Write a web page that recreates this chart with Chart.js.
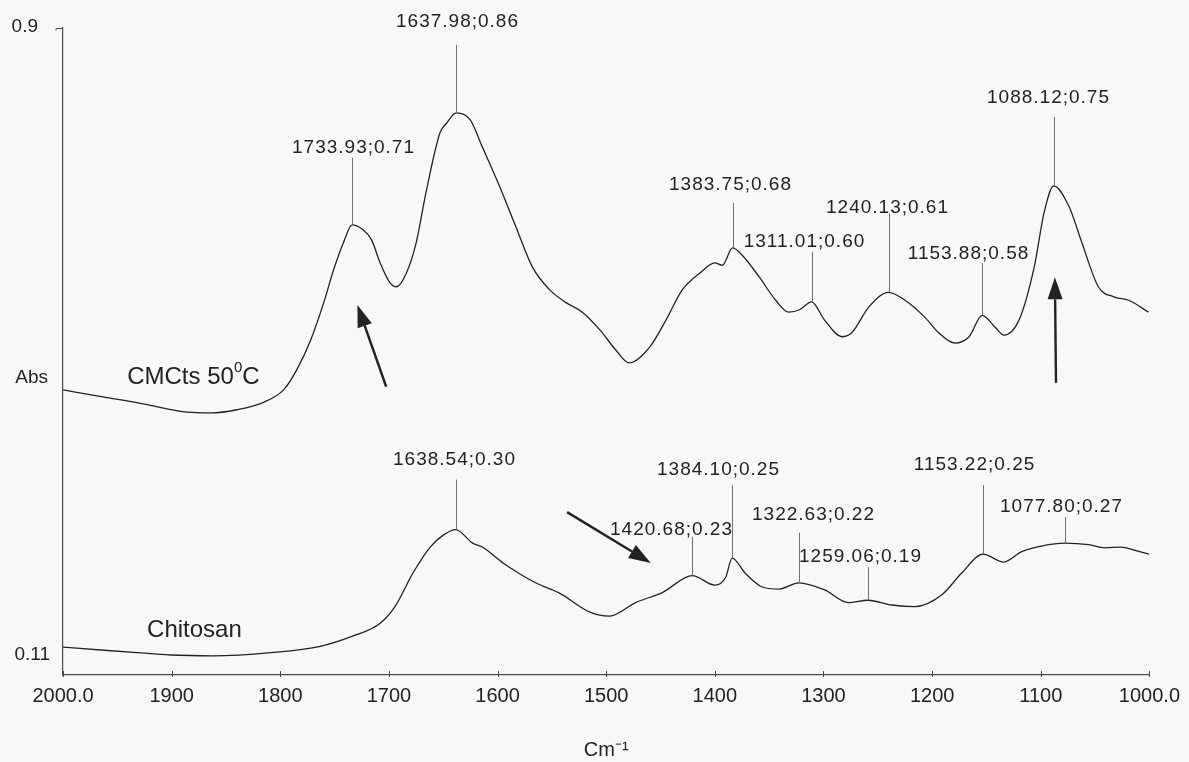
<!DOCTYPE html>
<html>
<head>
<meta charset="utf-8">
<title>FTIR spectra - CMCts 50°C and Chitosan</title>
<script src="https://cdn.jsdelivr.net/npm/chart.js@4.4.1/dist/chart.umd.min.js"></script>
<style>
  html, body { margin: 0; padding: 0; background: #f8f8f6; }
  #wrap { width: 1189px; height: 762px; }
</style>
</head>
<body>
<div id="wrap"><canvas id="spectrum"></canvas></div>
<script>
// x axis: wavenumber, runs 2000 -> 1000
const waveTicks = [2000, 1900, 1800, 1700, 1600, 1500, 1400, 1300, 1200, 1100, 1000];
const absTicks = [0.9, 0.11];

// CMCts 50°C trace (in units of the Abs axis)
const cmctsWave = [2000, 1962, 1932, 1886, 1864, 1840, 1816, 1797, 1785, 1772,
  1760, 1751, 1742, 1733.93, 1724, 1716, 1708, 1699, 1693, 1684,
  1675, 1666, 1653, 1647, 1637.98, 1625, 1614, 1598, 1583, 1568,
  1552, 1537, 1522, 1506, 1491, 1479, 1460, 1445, 1430, 1414,
  1400, 1393, 1383.75, 1375, 1359, 1344, 1332, 1322, 1311.01, 1299,
  1283, 1274, 1258, 1240.13, 1225, 1207, 1194, 1179, 1166, 1153.88,
  1142, 1134, 1120, 1106, 1097, 1088.12, 1074, 1063, 1047, 1032,
  1019, 1001];
const cmctsAbs = [0.444, 0.435, 0.428, 0.416, 0.415, 0.419, 0.428, 0.444, 0.469, 0.507,
  0.554, 0.595, 0.629, 0.652, 0.646, 0.633, 0.604, 0.579, 0.574, 0.591,
  0.629, 0.692, 0.768, 0.780, 0.793, 0.784, 0.750, 0.700, 0.649, 0.599,
  0.570, 0.554, 0.542, 0.520, 0.494, 0.478, 0.498, 0.532, 0.570, 0.591,
  0.604, 0.601, 0.623, 0.614, 0.586, 0.557, 0.542, 0.545, 0.555, 0.532,
  0.511, 0.516, 0.549, 0.567, 0.557, 0.536, 0.516, 0.503, 0.511, 0.538,
  0.523, 0.513, 0.532, 0.599, 0.667, 0.701, 0.675, 0.633, 0.574, 0.561,
  0.557, 0.542];

// Chitosan trace
const chitosanWave = [2000, 1962, 1932, 1901, 1862, 1809, 1763, 1733, 1708, 1694,
  1678, 1662, 1650, 1638.54, 1623, 1614, 1595, 1565, 1543, 1515,
  1497, 1473, 1448, 1420.68, 1400, 1390, 1384.10, 1372, 1357, 1341,
  1322.63, 1299, 1277, 1259.06, 1237, 1216, 1191, 1173, 1153.22, 1134,
  1118, 1093, 1077.80, 1056, 1041, 1026, 1014, 1000];
const chitosanAbs = [0.120, 0.116, 0.113, 0.110, 0.109, 0.113, 0.121, 0.134, 0.150, 0.172,
  0.213, 0.246, 0.261, 0.268, 0.251, 0.246, 0.226, 0.201, 0.188, 0.164,
  0.159, 0.176, 0.189, 0.210, 0.198, 0.208, 0.232, 0.213, 0.196, 0.193,
  0.201, 0.192, 0.176, 0.179, 0.173, 0.171, 0.186, 0.213, 0.237, 0.227,
  0.240, 0.249, 0.251, 0.249, 0.245, 0.246, 0.242, 0.237];

// labelled peaks (wavenumber ; printed absorbance)
const cmctsPeakWave = [1733.93, 1637.98, 1383.75, 1311.01, 1240.13, 1153.88, 1088.12];
const cmctsPeakAbs = [0.71, 0.86, 0.68, 0.60, 0.61, 0.58, 0.75];
const chitosanPeakWave = [1638.54, 1420.68, 1384.10, 1322.63, 1259.06, 1153.22, 1077.80];
const chitosanPeakAbs = [0.30, 0.23, 0.25, 0.22, 0.19, 0.25, 0.27];

// label placement per peak: [text dx, text rise above peak, marker length] in px
const cmctsLabelPos = [[1, 77, 67], [1, 91, 68], [-3, 63, 45], [-8, 60, 50], [-2, 85, 79], [-14, 62, 52], [-6, 88, 69]];
const chitosanLabelPos = [[-2, 70, 50], [-21, 46, 39], [-14, 88, 73], [14, 68, 50], [-8, 43, 33], [-9, 89, 69], [-4, 36, 26]];

// arrows: [tail wave, tail abs, tip wave, tip abs]
const arrows = [[1702.5, 0.448, 1729, 0.551], [1086, 0.453, 1087, 0.586], [1536, 0.290, 1459, 0.226]];
// series names: [wave, abs] of text centre
const namePos = [[1880, 0.460], [1879, 0.1415]];

const ink = '#222222';
const family = '"Liberation Sans", Arial, sans-serif';

function series(wave, abs) {
    return wave.map((w, i) => ({ x: w, y: abs[i] }));
}

function valueAt(data, w) {
    let best = data[0];
    data.forEach(p => { if (Math.abs(p.x - w) < Math.abs(best.x - w)) best = p; });
    return best.y;
}

const annotate = {
    id: 'annotate',
    afterDatasetsDraw(chart) {
        const { ctx, chartArea, scales: { x, y } } = chart;
        ctx.save();

        // peak markers and labels
        const groups = [
            [cmctsPeakWave, cmctsPeakAbs, cmctsLabelPos, chart.data.datasets[0].data],
            [chitosanPeakWave, chitosanPeakAbs, chitosanLabelPos, chart.data.datasets[1].data]
        ];
        ctx.font = '19px ' + family;
        ctx.letterSpacing = '1px';
        ctx.textAlign = 'center';
        ctx.textBaseline = 'middle';
        groups.forEach(([waves, abs, pos, data]) => {
            waves.forEach((w, i) => {
                const px = Math.round(x.getPixelForValue(w)) + 0.5;
                const py = y.getPixelForValue(valueAt(data, w));
                const [dx, rise, len] = pos[i];
                ctx.strokeStyle = '#707070';
                ctx.lineWidth = 1;
                ctx.beginPath();
                ctx.moveTo(px, py);
                ctx.lineTo(px, py - len);
                ctx.stroke();
                ctx.fillStyle = ink;
                ctx.fillText(w.toFixed(2) + ';' + abs[i].toFixed(2), px + dx, py - rise);
            });
        });
        ctx.letterSpacing = '0px';

        // arrows
        ctx.strokeStyle = ink;
        ctx.fillStyle = ink;
        arrows.forEach(([w0, v0, w1, v1]) => {
            const x0 = x.getPixelForValue(w0), y0 = y.getPixelForValue(v0);
            const x1 = x.getPixelForValue(w1), y1 = y.getPixelForValue(v1);
            const ang = Math.atan2(y1 - y0, x1 - x0);
            const head = 22, half = 7.5;
            const bx = x1 - head * Math.cos(ang), by = y1 - head * Math.sin(ang);
            ctx.lineWidth = 2.4;
            ctx.beginPath();
            ctx.moveTo(x0, y0);
            ctx.lineTo(bx, by);
            ctx.stroke();
            ctx.beginPath();
            ctx.moveTo(x1, y1);
            ctx.lineTo(bx + half * Math.sin(ang), by - half * Math.cos(ang));
            ctx.lineTo(bx - half * Math.sin(ang), by + half * Math.cos(ang));
            ctx.closePath();
            ctx.fill();
        });

        // series names
        ctx.fillStyle = ink;
        ctx.textAlign = 'left';
        ctx.textBaseline = 'middle';
        const big = '24px ' + family, small = '15px ' + family;
        const nx = x.getPixelForValue(namePos[0][0]), ny = y.getPixelForValue(namePos[0][1]);
        ctx.font = big;
        const wa = ctx.measureText('CMCts 50').width;
        const wc = ctx.measureText('C').width;
        ctx.font = small;
        const wo = ctx.measureText('0').width;
        const sx = nx - (wa + wo + wc) / 2;
        ctx.font = big;
        ctx.fillText('CMCts 50', sx, ny);
        ctx.font = small;
        ctx.fillText('0', sx + wa, ny - 9);
        ctx.font = big;
        ctx.fillText('C', sx + wa + wo, ny);
        ctx.textAlign = 'center';
        ctx.fillText('Chitosan', x.getPixelForValue(namePos[1][0]), y.getPixelForValue(namePos[1][1]));

        // y axis labels
        ctx.font = '19px ' + family;
        ctx.textAlign = 'right';
        ctx.fillText('0.9', chartArea.left - 25, y.getPixelForValue(absTicks[0]) - 1);
        ctx.fillText('0.11', chartArea.left - 13, y.getPixelForValue(absTicks[1]));
        ctx.fillText('Abs', chartArea.left - 15, y.getPixelForValue(0.459));
        ctx.strokeStyle = '#4a4a4a';
        ctx.lineWidth = 1;
        ctx.beginPath();
        const ty = Math.round(y.getPixelForValue(absTicks[0])) + 0.5;
        ctx.moveTo(chartArea.left - 7, ty + 2);
        ctx.lineTo(chartArea.left - 7, ty);
        ctx.lineTo(chartArea.left, ty);
        ctx.stroke();

        // inward tick marks on the x axis
        waveTicks.forEach(v => {
            const px = Math.round(x.getPixelForValue(v)) + 0.5;
            ctx.beginPath();
            ctx.moveTo(px, chartArea.bottom + 2);
            ctx.lineTo(px, chartArea.bottom - 4);
            ctx.stroke();
        });
        ctx.restore();
    }
};

new Chart(document.getElementById('spectrum'), {
    type: 'line',
    data: {
        datasets: [
            {
                label: 'CMCts 50°C',
                data: series(cmctsWave, cmctsAbs),
                borderColor: ink,
                borderWidth: 1.3,
                pointRadius: 0,
                cubicInterpolationMode: 'monotone',
                fill: false
            },
            {
                label: 'Chitosan',
                data: series(chitosanWave, chitosanAbs),
                borderColor: ink,
                borderWidth: 1.3,
                pointRadius: 0,
                cubicInterpolationMode: 'monotone',
                fill: false
            }
        ]
    },
    options: {
        responsive: true,
        maintainAspectRatio: false,
        animation: false,
        layout: { padding: { top: 28, right: 37, left: 0, bottom: 0 } },
        plugins: {
            legend: { display: false },
            tooltip: { enabled: false }
        },
        scales: {
            x: {
                type: 'linear',
                reverse: true,
                min: 1000,
                max: 2000,
                afterBuildTicks: s => { s.ticks = waveTicks.map(v => ({ value: v })); },
                afterFit: s => { s.height = 87; },
                grid: { drawOnChartArea: false, drawTicks: false },
                border: { display: true, color: '#4a4a4a', width: 1.2 },
                ticks: {
                    font: { size: 20, family: family },
                    color: ink,
                    padding: 9,
                    maxRotation: 0,
                    autoSkip: false,
                    callback: v => (v === 2000 || v === 1000) ? v.toFixed(1) : String(v)
                },
                title: {
                    display: true,
                    text: 'Cm⁻¹',
                    font: { size: 20, family: family },
                    color: ink,
                    padding: { top: 0, bottom: 0 }
                }
            },
            y: {
                type: 'linear',
                min: 0.0848,
                max: 0.9,
                afterFit: s => { s.width = 63; },
                grid: { drawOnChartArea: false, drawTicks: false },
                border: { display: true, color: '#4a4a4a', width: 1.2 },
                ticks: { display: false }
            }
        }
    },
    plugins: [annotate]
});
</script>
</body>
</html>
